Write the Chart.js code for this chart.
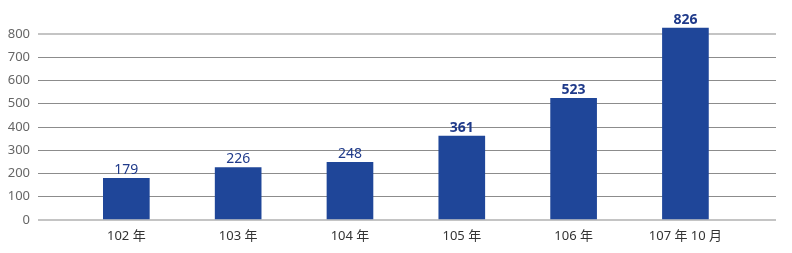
<!DOCTYPE html>
<html>
<head>
<meta charset="utf-8">
<script src="https://cdn.jsdelivr.net/npm/chart.js@4"></script>
<style>
  html, body { margin: 0; padding: 0; background: #fff; }
  #wrap { width: 792px; height: 253px; }
</style>
</head>
<body>
<div id="wrap"><canvas id="chart" width="792" height="253"></canvas></div>
<script>
const categories = ['102 年', '103 年', '104 年', '105 年', '106 年', '107 年 10 月'];
const values = [179, 226, 248, 361, 523, 826];
const boldLabels = [false, false, false, true, true, true];
const yTicks = [0, 100, 200, 300, 400, 500, 600, 700, 800];

const FONT = '"Noto Sans", "Noto Sans CJK TC", sans-serif';

const valueLabels = {
    id: 'valueLabels',
    afterDatasetsDraw(chart) {
        const ctx = chart.ctx;
        const meta = chart.getDatasetMeta(0);
        ctx.save();
        ctx.fillStyle = '#1f3a8a';
        ctx.textAlign = 'center';
        ctx.textBaseline = 'bottom';
        meta.data.forEach((bar, i) => {
            ctx.font = (boldLabels[i] ? 'bold ' : '') + '14px ' + FONT;
            ctx.fillText(String(values[i]), bar.x, bar.y - 1);
        });
        ctx.restore();
    }
};

new Chart(document.getElementById('chart'), {
    type: 'bar',
    data: {
        datasets: [{
            data: values.map((v, i) => ({ x: i, y: v })),
            backgroundColor: '#1f4699',
            barThickness: 46,
            clip: false
        }]
    },
    options: {
        responsive: false,
        animation: false,
        layout: { padding: { top: 34, right: 16, left: 0, bottom: 0 } },
        plugins: { legend: { display: false }, tooltip: { enabled: false } },
        scales: {
            x: {
                type: 'linear',
                offset: false,
                min: -0.79,
                max: 5.81,
                afterBuildTicks: s => { s.ticks = categories.map((c, i) => ({ value: i })); },
                afterFit: s => { s.height = 33; },
                grid: { display: false, drawTicks: false, offset: false },
                border: { display: false },
                ticks: {
                    padding: 8,
                    color: '#333',
                    font: { family: FONT, size: 13 },
                    callback: v => categories[v] ?? ''
                }
            },
            y: {
                min: 0,
                max: 800,
                afterBuildTicks: s => { s.ticks = yTicks.map(v => ({ value: v })); },
                afterFit: s => { s.width = 38; },
                border: { display: false },
                grid: {
                    drawTicks: false,
                    color: c => (c.tick.value === 0 || c.tick.value === 800) ? '#c4c4c4' : '#8c8c8c',
                    lineWidth: c => (c.tick.value === 0 || c.tick.value === 800) ? 2 : 1
                },
                ticks: {
                    padding: 8,
                    color: '#666',
                    font: { family: FONT, size: 13 }
                }
            }
        }
    },
    plugins: [valueLabels]
});
</script>
</body>
</html>
